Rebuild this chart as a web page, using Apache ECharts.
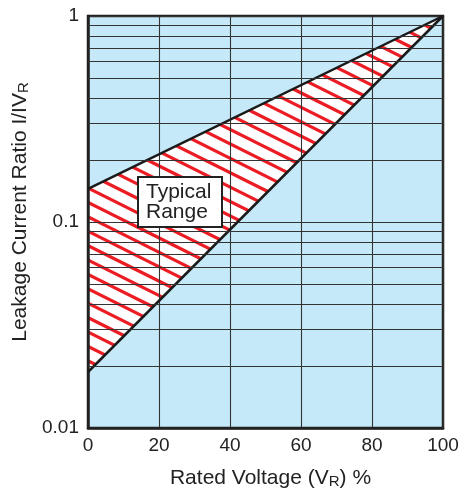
<!DOCTYPE html>
<html><head><meta charset="utf-8">
<script src="https://cdn.jsdelivr.net/npm/echarts@6/dist/echarts.min.js"></script>
<style>html,body{margin:0;padding:0;background:#fff}#c{width:461px;height:490px}</style>
</head><body><div id="c"></div>
<script>
// Data
const voltage = [0, 100];             // Rated voltage (%)
const upperRatio = [0.145, 1];        // upper boundary of typical range
const lowerRatio = [0.0187, 1];       // lower boundary of typical range
const xTicks = [0, 20, 40, 60, 80, 100];
const yTicks = [0.01, 0.1, 1];
const yTickLabels = ['0.01', '0.1', '1'];
const minorY = [0.02, 0.03, 0.04, 0.05, 0.06, 0.07, 0.08, 0.09, 0.2, 0.3, 0.4, 0.5, 0.6, 0.7, 0.8, 0.9];
const boxText = 'Typical\nRange';

const FONT = '"Liberation Sans", Arial, Helvetica, sans-serif';
const TXT = '#222';

function hatchCanvas() {
  const h = 72, w = 144, sp = 14.4;
  const c = document.createElement('canvas');
  c.width = w; c.height = h;
  const g = c.getContext('2d');
  g.fillStyle = '#fff';
  g.fillRect(0, 0, w, h);
  g.strokeStyle = '#ec1c24';
  g.lineWidth = 3.2;
  for (let k = -8; k <= 8; k++) {
    const off = k * sp;
    g.beginPath();
    g.moveTo(-10, -5 + off);
    g.lineTo(w + 10, (w + 10) / 2 + off);
    g.stroke();
  }
  return c;
}
const pattern = { image: hatchCanvas(), repeat: 'repeat' };

const chart = echarts.init(document.getElementById('c'), null, { renderer: 'canvas' });
chart.setOption({
  animation: false,
  backgroundColor: '#fff',
  grid: { left: 88, right: 18, top: 16, bottom: 62, outerBoundsMode: 'none', containLabel: false,
    show: true, backgroundColor: '#c6e9f9', borderColor: '#222', borderWidth: 2.5 },
  xAxis: {
    type: 'value', min: xTicks[0], max: xTicks[xTicks.length - 1], interval: 20, z: 3,
    axisLine: { show: true, onZero: false, lineStyle: { color: '#222', width: 2.5 } },
    axisTick: { show: false },
    splitLine: { show: true, lineStyle: { color: '#333', width: 1.1 } },
    axisLabel: { margin: 8, fontSize: 19, color: TXT, fontFamily: FONT },
    name: 'Rated Voltage (V{s|R}) %', nameLocation: 'middle', nameGap: 40,
    nameTextStyle: { fontSize: 21, color: TXT, fontFamily: FONT, padding: [0, 0, 0, 10],
      rich: { s: { fontSize: 15, color: TXT, fontFamily: FONT, verticalAlign: 'bottom' } } }
  },
  yAxis: {
    type: 'log', logBase: 10, min: yTicks[0], max: yTicks[yTicks.length - 1], z: 3,
    axisLine: { show: true, lineStyle: { color: '#222', width: 2.5 } },
    axisTick: { show: false },
    splitLine: { show: true, lineStyle: { color: '#333', width: 1.1 } },
    axisLabel: { margin: 9, fontSize: 19, color: TXT, fontFamily: FONT,
      formatter: function (v) {
        for (let i = 0; i < yTicks.length; i++) if (Math.abs(v - yTicks[i]) / yTicks[i] < 1e-6) return yTickLabels[i];
        return '';
      } },
    name: 'Leakage Current Ratio I/IV{s|R}', nameLocation: 'middle', nameGap: 53,
    nameTextStyle: { fontSize: 21, color: TXT, fontFamily: FONT, padding: [0, 0, 0, 20],
      rich: { s: { fontSize: 15, color: TXT, fontFamily: FONT, verticalAlign: 'bottom' } } }
  },
  series: [
    {
      type: 'custom', z: 2, silent: true,
      data: [[0]],
      renderItem: function (params, api) {
        const pts = [];
        for (let i = 0; i < voltage.length; i++) pts.push(api.coord([voltage[i], upperRatio[i]]));
        for (let i = voltage.length - 1; i >= 0; i--) pts.push(api.coord([voltage[i], lowerRatio[i]]));
        return { type: 'polygon', shape: { points: pts }, style: { fill: pattern, stroke: null } };
      }
    },
    {
      type: 'line', z: 3, silent: true, data: [], symbol: 'none',
      markLine: {
        silent: true, symbol: 'none', animation: false,
        label: { show: false },
        lineStyle: { type: 'solid', color: '#333', width: 1.1 },
        emphasis: { disabled: true },
        data: minorY.map(v => ({ yAxis: v }))
      }
    },
    {
      type: 'line', z: 4, silent: true, symbol: 'none',
      data: voltage.map((x, i) => [x, upperRatio[i]]),
      lineStyle: { color: '#1a1a1a', width: 2.5 }
    },
    {
      type: 'line', z: 4, silent: true, symbol: 'none',
      data: voltage.map((x, i) => [x, lowerRatio[i]]),
      lineStyle: { color: '#1a1a1a', width: 2.5 }
    }
  ],
  graphic: {
    elements: [
      { type: 'rect', x: 138, y: 177, z: 100, silent: true,
        shape: { x: 0, y: 0, width: 84, height: 50 },
        style: { fill: '#ffffff', stroke: '#222222', lineWidth: 2 } },
      { type: 'text', x: 146, y: 202, z: 101, silent: true,
        style: { text: boxText, fontSize: 21, lineHeight: 20, fill: TXT, fontFamily: FONT, verticalAlign: 'middle', align: 'left' } }
    ]
  }
});
</script></body></html>
